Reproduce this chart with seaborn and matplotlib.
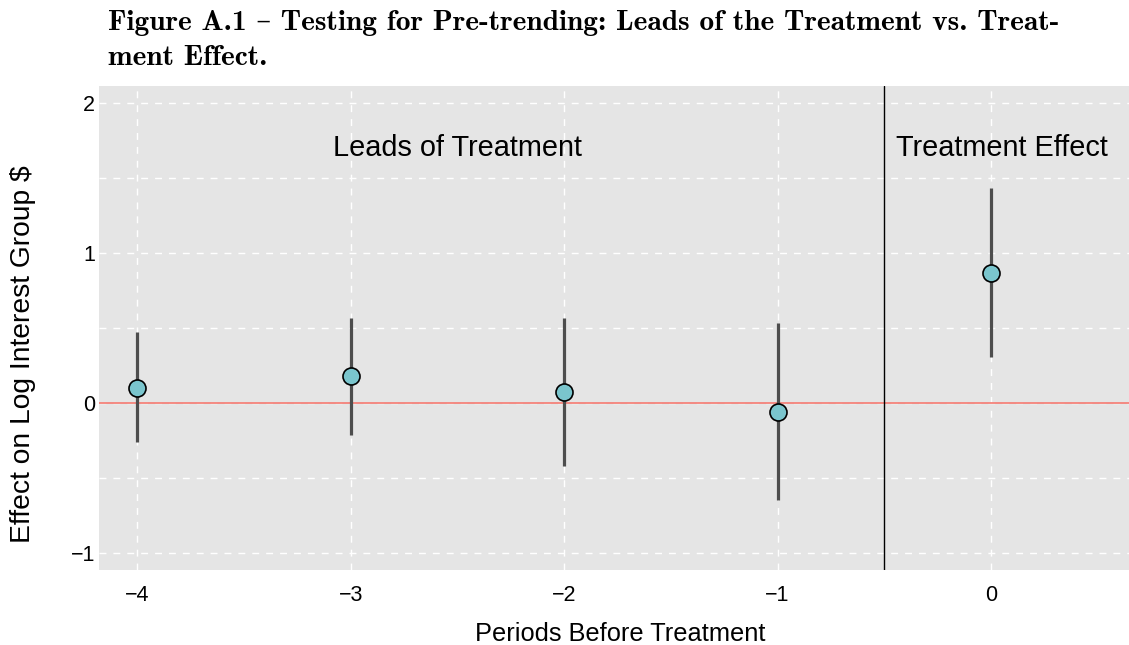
import matplotlib
matplotlib.use("Agg")
import matplotlib.pyplot as plt
import seaborn as sns
import pandas as pd

# Event-study estimates
period = [-4, -3, -2, -1, 0]
estimate = [0.105, 0.180, 0.075, -0.058, 0.871]
ci_low = [-0.260, -0.211, -0.420, -0.647, 0.309]
ci_high = [0.473, 0.571, 0.571, 0.535, 1.435]

x_ticks = [-4, -3, -2, -1, 0]
y_ticks = [-1, 0, 1, 2]
y_minor = [-0.5, 0.5, 1.5]

title_lines = [
    "Figure A.1 \u2013 Testing for Pre-trending: Leads of the Treatment vs. Treat-",
    "ment Effect.",
]

df = pd.DataFrame({"period": period, "estimate": estimate,
                   "ci_low": ci_low, "ci_high": ci_high})

sns.set_style("white")
plt.rcParams["font.family"] = ["Liberation Sans", "DejaVu Sans"]
plt.rcParams.update({"text.color": "black", "axes.labelcolor": "black",
                     "xtick.color": "black", "ytick.color": "black"})

fig = plt.figure(figsize=(11.29, 6.45), dpi=100)
ax = fig.add_axes([0.088, 0.1163, 0.912, 0.7504])
ax.set_facecolor("#E5E5E5")
for s in ax.spines.values():
    s.set_visible(False)

# grid
ax.set_xlim(-4.177, 0.646)
ax.set_ylim(-1.11, 2.115)
ax.set_xticks(x_ticks)
ax.set_yticks(y_ticks)
ax.set_yticks(y_minor, minor=True)
ax.grid(True, which="major", color="white", linestyle=(0, (5, 5)), linewidth=1.0)
ax.grid(True, which="minor", axis="y", color="white", linestyle=(0, (5, 5)), linewidth=1.0)
ax.set_axisbelow(True)

ax.axhline(0, color="#F4827A", linewidth=1.3, zorder=1.5)
ax.axvline(-0.5, color="black", linewidth=1.0, zorder=1.5)

ax.vlines(df["period"], df["ci_low"], df["ci_high"], color="#4D4D4D",
          linewidth=2.3, zorder=2)
sns.scatterplot(data=df, x="period", y="estimate", ax=ax, s=150,
                color="#7AC5CD", edgecolor="black", linewidth=1.2, zorder=3)

ax.text(-2.5, 1.70, "Leads of Treatment", ha="center", va="center", fontsize=20.8)
ax.text(0.05, 1.70, "Treatment Effect", ha="center", va="center", fontsize=20.8)

ax.set_xticklabels([f"\u2212{abs(v)}" if v < 0 else str(v) for v in x_ticks])
ax.set_yticklabels([f"\u2212{abs(v)}" if v < 0 else str(v) for v in y_ticks])
ax.tick_params(axis="both", which="both", length=0, labelsize=15.5)
ax.tick_params(axis="x", pad=11)
ax.tick_params(axis="y", pad=3)

ax.set_xlabel("Periods Before Treatment", fontsize=18.3, va="center")
ax.xaxis.set_label_coords(0.5057, -0.132)
ax.set_ylabel("Effect on Log Interest Group $", fontsize=20.3, va="center")
ax.yaxis.set_label_coords(-0.074, 0.446)

fig.text(108 / 1129, 1 - 30 / 645, title_lines[0], fontsize=21.2,
         family=["cmb10", "DejaVu Serif"], ha="left", va="baseline")
fig.text(108 / 1129, 1 - 65 / 645, title_lines[1], fontsize=21.2,
         family=["cmb10", "DejaVu Serif"], ha="left", va="baseline")

fig.savefig("out.png", dpi=100)
